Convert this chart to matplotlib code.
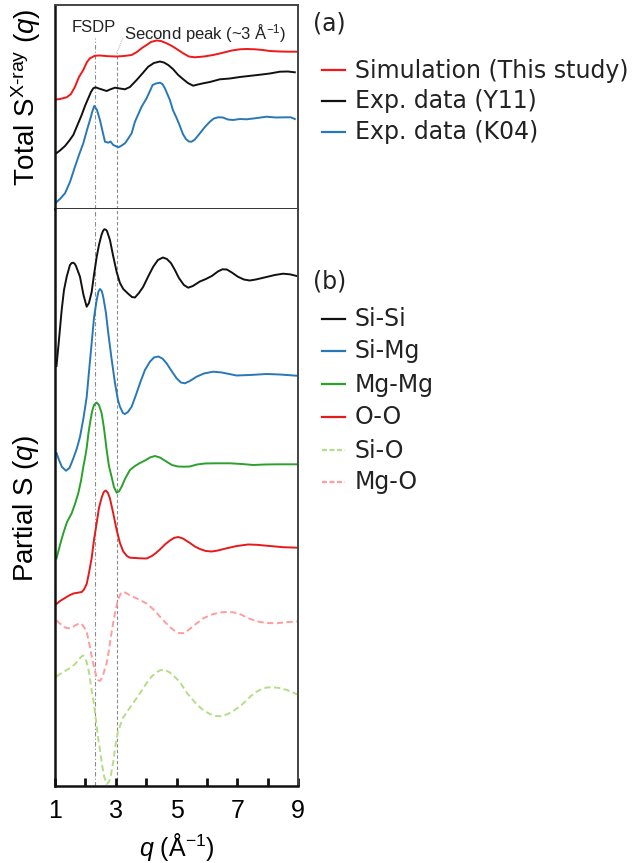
import matplotlib
matplotlib.use("Agg")
import matplotlib.pyplot as plt
from matplotlib.lines import Line2D

plt.rcParams['font.family'] = ['Liberation Sans', 'DejaVu Sans']
plt.rcParams['mathtext.fontset'] = 'custom'
plt.rcParams['mathtext.rm'] = 'Liberation Sans'
plt.rcParams['mathtext.it'] = 'Liberation Sans:italic'
plt.rcParams['mathtext.bf'] = 'Liberation Sans:bold'

# ---------------- (a) total X-ray structure factors (offset, arb. units) ----------------
q_sim = [1.000, 1.164, 1.385, 1.526, 1.658, 1.789, 1.931, 2.053, 2.151, 2.316, 2.480, 2.743,
         3.030, 3.270, 3.523, 3.697, 3.862, 4.016, 4.158, 4.345, 4.487, 4.674, 4.849, 5.056,
         5.220, 5.408, 5.605, 5.901, 6.207, 6.493, 6.822, 7.086, 7.306, 7.579, 7.842, 8.072,
         8.401, 8.730, 8.993]
s_sim = [10.93, 11.00, 11.17, 11.50, 12.23, 13.20, 13.90, 14.70, 15.07, 15.33, 15.35, 15.28,
         15.25, 15.30, 15.40, 15.70, 16.10, 16.40, 16.70, 16.85, 16.80, 16.57, 16.30, 15.90,
         15.57, 15.25, 15.17, 15.25, 15.40, 15.60, 15.85, 15.97, 16.00, 15.97, 15.90, 15.80,
         15.75, 15.73, 15.73]

q_y11 = [1.033, 1.164, 1.329, 1.461, 1.602, 1.740, 1.878, 1.987, 2.095, 2.184, 2.260, 2.332,
         2.424, 2.546, 2.701, 2.809, 2.974, 3.138, 3.303, 3.467, 3.688, 3.862, 4.069, 4.257,
         4.454, 4.586, 4.727, 4.882, 5.056, 5.211, 5.375, 5.549, 5.704, 5.878, 6.099, 6.428,
         6.757, 7.086, 7.523, 7.809, 8.072, 8.401, 8.664, 8.895]
s_y11 = [5.55, 5.85, 6.30, 6.80, 7.40, 8.40, 9.40, 10.30, 11.07, 11.70, 12.07, 12.17,
         12.07, 11.95, 11.80, 11.95, 12.13, 12.05, 11.97, 12.20, 12.90, 13.50, 14.23, 14.60,
         14.75, 14.65, 14.40, 14.00, 13.40, 13.00, 12.60, 12.33, 12.45, 12.57, 12.70, 12.97,
         13.05, 13.20, 13.35, 13.45, 13.55, 13.73, 13.75, 13.67]

q_k04 = [1.033, 1.164, 1.329, 1.493, 1.658, 1.789, 1.931, 2.053, 2.151, 2.234, 2.293, 2.382,
         2.480, 2.563, 2.645, 2.753, 2.826, 2.918, 3.082, 3.171, 3.303, 3.401, 3.523, 3.632,
         3.730, 3.852, 4.016, 4.125, 4.214, 4.322, 4.454, 4.536, 4.618, 4.783, 4.882, 5.003,
         5.112, 5.211, 5.309, 5.408, 5.497, 5.605, 5.770, 5.934, 6.099, 6.230, 6.372, 6.526,
         6.691, 6.865, 7.086, 7.306, 7.579, 7.964, 8.270, 8.622, 8.763, 8.895]
s_k04 = [0.65, 1.00, 1.57, 2.70, 4.23, 5.40, 6.57, 7.90, 8.90, 9.80, 10.30, 9.90,
         8.90, 7.80, 6.73, 6.63, 6.75, 6.40, 6.17, 6.30, 6.57, 7.00, 7.57, 8.73,
         9.40, 10.23, 11.07, 11.80, 12.40, 12.55, 12.63, 12.50, 12.07, 10.90, 9.90, 9.10,
         8.30, 7.50, 7.00, 6.75, 6.73, 6.95, 7.57, 8.20, 8.73, 9.05, 9.17, 9.15,
         8.95, 8.90, 9.00, 8.97, 9.07, 9.23, 9.15, 9.17, 9.17, 9.00]

# ---------------- (b) partial structure factors (offset, arb. units) ----------------
q_sisi = [1.049, 1.115, 1.220, 1.296, 1.385, 1.493, 1.550, 1.602, 1.650, 1.691, 1.822, 1.938,
          2.043, 2.118, 2.207, 2.283, 2.372, 2.447, 2.530, 2.580, 2.622, 2.670, 2.711, 2.809,
          2.908, 3.030, 3.138, 3.247, 3.401, 3.533, 3.632, 3.763, 3.905, 4.059, 4.234, 4.388,
          4.553, 4.684, 4.816, 4.947, 5.079, 5.243, 5.385, 5.539, 5.770, 5.967, 6.164, 6.362,
          6.510, 6.658, 6.822, 7.020, 7.217, 7.414, 7.612, 7.964, 8.237, 8.510, 8.730, 8.961]
s_sisi = [42.00, 44.10, 47.60, 49.60, 50.93, 52.10, 52.30, 52.33, 52.22, 52.00, 50.93, 49.10,
          47.93, 48.30, 49.40, 51.10, 52.90, 54.10, 55.10, 55.50, 55.67, 55.64, 55.50, 54.60,
          53.10, 51.40, 50.30, 49.70, 49.25, 48.90, 48.85, 49.30, 49.93, 50.90, 51.93, 52.60,
          52.85, 52.70, 52.30, 51.60, 50.80, 50.10, 49.83, 50.00, 50.45, 50.70, 51.00, 51.45,
          51.67, 51.65, 51.35, 50.93, 50.65, 50.55, 50.65, 50.90, 51.10, 51.23, 51.17, 51.00]

q_simg = [1.049, 1.132, 1.230, 1.362, 1.477, 1.602, 1.724, 1.822, 1.938, 2.043, 2.118, 2.207,
          2.283, 2.372, 2.431, 2.480, 2.539, 2.589, 2.678, 2.753, 2.859, 2.974, 3.072, 3.138,
          3.237, 3.303, 3.401, 3.523, 3.664, 3.796, 3.961, 4.125, 4.257, 4.398, 4.536, 4.674,
          4.816, 5.003, 5.145, 5.276, 5.441, 5.661, 5.901, 6.207, 6.493, 6.977, 7.414, 7.964,
          8.401, 8.951]
s_simg = [33.30, 32.60, 31.90, 31.53, 31.80, 32.75, 33.80, 34.90, 36.80, 38.90, 41.40, 44.30,
          46.80, 48.60, 49.45, 49.70, 49.50, 48.90, 47.30, 45.30, 42.80, 40.30, 38.60, 37.93,
          37.30, 37.20, 37.40, 37.93, 39.10, 40.27, 41.60, 42.43, 42.85, 42.95, 42.75, 42.27,
          41.60, 40.77, 40.35, 40.27, 40.50, 40.93, 41.25, 41.43, 41.35, 41.05, 41.10, 41.20,
          41.15, 41.03]

q_mgmg = [1.049, 1.164, 1.273, 1.395, 1.549, 1.658, 1.766, 1.855, 1.931, 1.987, 2.043, 2.102,
          2.151, 2.217, 2.283, 2.372, 2.447, 2.536, 2.612, 2.701, 2.776, 2.865, 2.941, 3.030,
          3.105, 3.194, 3.303, 3.467, 3.632, 3.796, 3.993, 4.125, 4.289, 4.454, 4.674, 4.849,
          5.046, 5.243, 5.441, 5.671, 5.934, 6.263, 6.757, 7.151, 7.523, 7.908, 8.293, 8.984]
s_mgmg = [22.75, 24.10, 25.27, 26.40, 27.27, 28.20, 29.27, 30.50, 31.90, 32.80, 33.80, 35.30,
          36.27, 37.40, 38.10, 38.35, 38.10, 37.27, 35.80, 33.60, 32.00, 30.90, 29.90, 29.33,
          29.45, 29.93, 30.70, 31.60, 32.00, 32.30, 32.60, 32.85, 33.00, 32.85, 32.43, 32.10,
          31.95, 31.93, 31.95, 32.15, 32.25, 32.27, 32.27, 32.20, 32.10, 32.15, 32.17, 32.17]

q_oo = [1.049, 1.164, 1.329, 1.461, 1.602, 1.757, 1.878, 1.954, 2.043, 2.118, 2.207, 2.283,
        2.372, 2.447, 2.536, 2.605, 2.668, 2.737, 2.809, 2.908, 3.030, 3.138, 3.247, 3.368,
        3.467, 3.632, 3.796, 4.016, 4.191, 4.322, 4.454, 4.618, 4.783, 4.914, 5.056, 5.211,
        5.441, 5.605, 5.770, 5.967, 6.155, 6.362, 6.648, 6.987, 7.359, 7.645, 7.964, 8.510,
        8.984]
s_oo = [18.20, 18.50, 18.80, 19.05, 19.25, 19.33, 19.40, 19.65, 20.20, 21.30, 22.80, 24.60,
        26.30, 27.80, 28.85, 29.40, 29.55, 29.35, 28.75, 27.40, 25.60, 24.30, 23.45, 23.00,
        22.83, 22.80, 22.77, 22.75, 23.00, 23.30, 23.65, 24.15, 24.55, 24.80, 24.90, 24.75,
        24.30, 23.95, 23.70, 23.50, 23.45, 23.55, 23.77, 24.00, 24.15, 24.12, 24.03, 23.88,
        23.83]

q_mgo = [1.049, 1.164, 1.296, 1.428, 1.559, 1.691, 1.789, 1.878, 1.954, 2.043, 2.118, 2.201,
         2.260, 2.349, 2.414, 2.480, 2.546, 2.612, 2.701, 2.776, 2.875, 2.974, 3.072, 3.155,
         3.247, 3.368, 3.500, 3.664, 3.829, 4.016, 4.191, 4.322, 4.454, 4.618, 4.783, 4.947,
         5.079, 5.220, 5.375, 5.572, 5.878, 6.164, 6.428, 6.625, 6.865, 7.118, 7.349, 7.523,
         7.743, 8.007, 8.293, 8.664, 8.984]
s_mgo = [16.55, 16.25, 15.90, 15.77, 15.85, 16.10, 16.25, 16.20, 15.90, 15.40, 14.40, 13.10,
         12.20, 11.10, 10.60, 10.50, 10.80, 11.40, 12.30, 13.60, 15.60, 17.30, 18.60, 19.20,
         19.43, 19.25, 19.00, 18.80, 18.55, 18.25, 17.80, 17.40, 16.93, 16.40, 15.90, 15.50,
         15.30, 15.28, 15.55, 16.05, 16.77, 17.15, 17.35, 17.40, 17.37, 17.15, 16.80, 16.60,
         16.40, 16.30, 16.27, 16.40, 16.45]

q_sio = [1.049, 1.164, 1.329, 1.493, 1.625, 1.757, 1.855, 1.921, 1.987, 2.053, 2.118, 2.184,
         2.260, 2.349, 2.414, 2.480, 2.546, 2.612, 2.701, 2.776, 2.842, 2.918, 2.990, 3.072,
         3.138, 3.237, 3.411, 3.599, 3.796, 3.993, 4.181, 4.355, 4.487, 4.618, 4.783, 4.947,
         5.112, 5.332, 5.539, 5.704, 5.878, 6.099, 6.296, 6.484, 6.691, 6.888, 7.086, 7.283,
         7.447, 7.635, 7.809, 7.974, 8.181, 8.401, 8.632, 8.796, 8.984]
s_sio = [10.95, 11.20, 11.50, 11.80, 12.10, 12.50, 12.90, 13.05, 12.80, 12.30, 11.40, 10.00,
         8.60, 6.60, 4.90, 3.60, 2.20, 1.00, 0.20, 0.40, 1.10, 2.40, 4.10, 5.40,
         6.00, 6.80, 7.60, 8.40, 9.27, 10.20, 10.95, 11.40, 11.60, 11.60, 11.35, 10.90,
         10.40, 9.35, 8.60, 8.05, 7.60, 7.20, 7.00, 6.98, 7.20, 7.55, 7.95, 8.50,
         9.00, 9.43, 9.70, 9.85, 9.87, 9.80, 9.60, 9.40, 9.15]

# peak markers
q_fsdp = 2.32
q_second = 3.03

xticks_major = [1, 3, 5, 7, 9]
xticks_minor = [2, 4, 6, 8]

labels_a = ['Simulation (This study)', 'Exp. data (Y11)', 'Exp. data (K04)']
labels_b = ['Si-Si', 'Si-Mg', 'Mg-Mg', 'O-O', 'Si-O', 'Mg-O']

C_SIM = '#f01818'
C_BLACK = '#111111'
C_BLUE = '#2878b8'
C_GREEN = '#2ca02c'
C_RED = '#e41a1c'
C_LGREEN = '#b4de86'
C_PINK = '#ff9c9c'
C_VLINE = '#8a8a8a'

W, H = 643, 863
fig = plt.figure(figsize=(W / 100, H / 100), dpi=100)


def fx(px):
    return px / W


def fy(py):
    return 1 - py / H


ax_a = fig.add_axes([fx(55), fy(209), fx(298) - fx(55), fy(5) - fy(209)])
ax_b = fig.add_axes([fx(55), fy(786), fx(298) - fx(55), fy(209) - fy(786)])

lw = 1.4
ax_a.plot(q_sim, s_sim, color=C_SIM, lw=lw)
ax_a.plot(q_y11, s_y11, color=C_BLACK, lw=lw)
ax_a.plot(q_k04, s_k04, color=C_BLUE, lw=lw)

dash = (0, (3.2, 1.8))
ax_b.plot(q_sisi, s_sisi, color=C_BLACK, lw=lw)
ax_b.plot(q_simg, s_simg, color=C_BLUE, lw=lw)
ax_b.plot(q_mgmg, s_mgmg, color=C_GREEN, lw=lw)
ax_b.plot(q_oo, s_oo, color=C_RED, lw=lw)
ax_b.plot(q_mgo, s_mgo, color=C_PINK, lw=lw, ls=dash)
ax_b.plot(q_sio, s_sio, color=C_LGREEN, lw=lw, ls=dash)

ax_a.set_xlim(1, 9)
ax_b.set_xlim(1, 9)
ax_a.set_ylim(0, 20.4)
ax_b.set_ylim(0, 57.7)

# peak guide lines
vl = dict(color=C_VLINE, lw=0.8, zorder=0)
ax_a.axvline(q_fsdp, ymax=0.838, ls=(0, (4, 2, 1, 2)), **vl)
ax_a.axvline(q_second, ymax=0.765, ls=(0, (3, 2)), **vl)
ax_b.axvline(q_fsdp, ls=(0, (4, 2, 1, 2)), **vl)
ax_b.axvline(q_second, ls=(0, (3, 2)), **vl)
ax_a.plot([q_second, 3.25], [15.6, 17.2], color='#b0b0b0', lw=0.7, ls=(0, (1, 1)))

ax_a.text(1.56, 17.75, 'FSDP', fontsize=12, ha='left', va='baseline', color='#222222')
ax_a.text(3.27, 16.95, 'Second peak (~3 Å$^{-1}$)', fontsize=12, ha='left', va='baseline',
          color='#222222')

# axes styling
for ax in (ax_a, ax_b):
    for side in ('left', 'bottom'):
        ax.spines[side].set_linewidth(1.8)
        ax.spines[side].set_color('#111111')
    for side in ('right', 'top'):
        ax.spines[side].set_linewidth(1.4)
        ax.spines[side].set_color('#444444')
    ax.set_yticks([])
ax_b.spines['top'].set_visible(False)
ax_a.spines['bottom'].set_color('#333333')
ax_a.spines['bottom'].set_linewidth(1.4)
ax_a.set_xticks([])

ax_b.set_xticks(xticks_major)
ax_b.set_xticks(xticks_minor, minor=True)
ax_b.set_xticklabels([str(v) for v in xticks_major])
ax_b.tick_params(axis='x', which='both', direction='in', length=5.5, width=2,
                 color='#111111', top=False)
ax_b.tick_params(axis='x', which='major', labelsize=18, pad=9)
ax_b.set_xlabel(r'$q$ (Å$^{-1}$)', fontsize=18, labelpad=6)

fig.text(fx(26), fy(97), r'Total S$^{\mathrm{X}\text{-}\mathrm{ray}}$ ($q$)', fontsize=20,
         rotation=90, ha='center', va='center')
fig.text(fx(26), fy(509), r'Partial S ($q$)', fontsize=20, rotation=90,
         ha='center', va='center')

# legend blocks
leg_font = dict(family='DejaVu Sans', fontsize=17, color='#222222')
fig.text(fx(313), fy(23), '(a)', ha='left', va='center', **leg_font)
rows_a = [70, 100.7, 131.5]
for y, lab, c in zip(rows_a, labels_a, [C_SIM, C_BLACK, C_BLUE]):
    fig.add_artist(Line2D([fx(321.5), fx(345)], [fy(y), fy(y)], color=c, lw=1.6,
                          transform=fig.transFigure))
    fig.text(fx(355), fy(y + 0.5), lab, ha='left', va='center', **leg_font)

fig.text(fx(313), fy(282), '(b)', ha='left', va='center', **leg_font)
rows_b = [319, 350.7, 384, 416.7, 450, 481.7]
styles_b = [(C_BLACK, '-'), (C_BLUE, '-'), (C_GREEN, '-'), (C_RED, '-'),
            (C_LGREEN, (0, (2.2, 1.2))), (C_PINK, (0, (2.2, 1.2)))]
for y, lab, (c, ls) in zip(rows_b, labels_b, styles_b):
    fig.add_artist(Line2D([fx(321.5), fx(345)], [fy(y), fy(y)], color=c, lw=1.6, ls=ls,
                          transform=fig.transFigure))
    fig.text(fx(355), fy(y + 0.5), lab, ha='left', va='center', **leg_font)

fig.savefig('out.png', dpi=100)
